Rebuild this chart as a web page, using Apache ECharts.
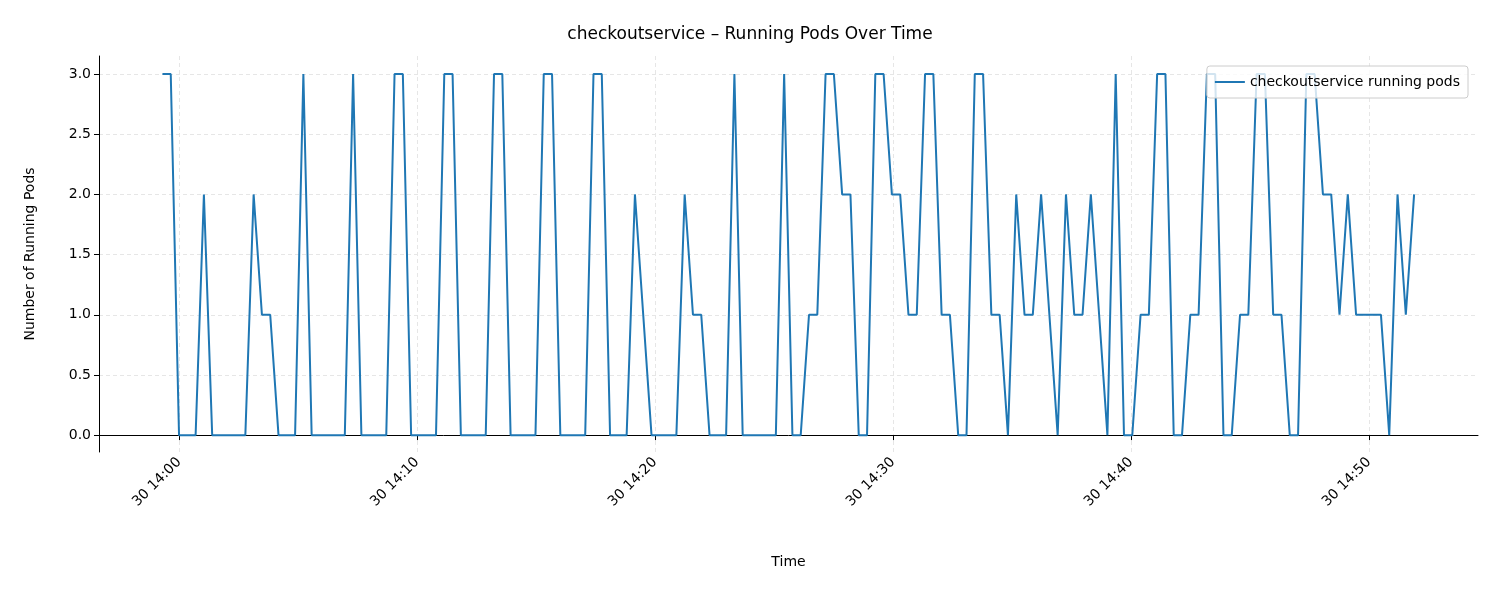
<!DOCTYPE html>
<html lang="en">
<head>
<meta charset="UTF-8">
<title>checkoutservice running pods</title>
<script src="https://cdn.jsdelivr.net/npm/echarts@6/dist/echarts.min.js"></script>
<style>
  html, body { margin: 0; padding: 0; background: #fff; }
  #chart { width: 1500px; height: 600px; }
</style>
</head>
<body>
<div id="chart"></div>
<script>
// samples roughly every 21 s, starting just before 14:00
const startTime = new Date(2025, 5, 30, 13, 59, 18).getTime();
const stepMs = 20900;
const runningPods = [
  3, 3, 0, 0, 0, 2, 0, 0, 0, 0, 0, 2, 1, 1, 0, 0, 0, 3, 0, 0,
  0, 0, 0, 3, 0, 0, 0, 0, 3, 3, 0, 0, 0, 0, 3, 3, 0, 0, 0, 0,
  3, 3, 0, 0, 0, 0, 3, 3, 0, 0, 0, 0, 3, 3, 0, 0, 0, 2, 1, 0,
  0, 0, 0, 2, 1, 1, 0, 0, 0, 3, 0, 0, 0, 0, 0, 3, 0, 0, 1, 1,
  3, 3, 2, 2, 0, 0, 3, 3, 2, 2, 1, 1, 3, 3, 1, 1, 0, 0, 3, 3,
  1, 1, 0, 2, 1, 1, 2, 1, 0, 2, 1, 1, 2, 1, 0, 3, 0, 0, 1, 1,
  3, 3, 0, 0, 1, 1, 3, 3, 0, 0, 1, 1, 3, 3, 1, 1, 0, 0, 3, 3,
  2, 2, 1, 2, 1, 1, 1, 1, 0, 2, 1, 2
];
const xTicks = [0, 10, 20, 30, 40, 50].map(m => new Date(2025, 5, 30, 14, m, 0).getTime());
const yTicks = [0, 0.5, 1, 1.5, 2, 2.5, 3];

const xMin = new Date(2025, 5, 30, 13, 56, 38).getTime();
const xMax = new Date(2025, 5, 30, 14, 54, 35).getTime();

const seriesData = runningPods.map((v, i) => [startTime + i * stepMs, v]);

const pad = n => String(n).padStart(2, '0');
const font = 'DejaVu Sans';

const chart = echarts.init(document.getElementById('chart'));
chart.setOption({
  animation: false,
  textStyle: { fontFamily: font },
  title: {
    text: 'checkoutservice – Running Pods Over Time',
    left: 'center', top: 21,
    textStyle: { fontFamily: font, fontSize: 17, fontWeight: 'normal', color: '#000' }
  },
  legend: {
    right: 32, top: 66,
    orient: 'vertical',
    itemWidth: 30, itemHeight: 2, itemGap: 6,
    padding: [9, 8, 9, 8],
    borderColor: '#cccccc', borderWidth: 1, borderRadius: 3,
    backgroundColor: 'rgba(255,255,255,0.8)',
    icon: 'rect',
    textStyle: { fontFamily: font, fontSize: 14, color: '#000' }
  },
  grid: { left: 99, right: 22, top: 56, bottom: 148 },
  xAxis: {
    type: 'value',
    min: xMin, max: xMax,
    name: 'Time', nameLocation: 'middle', nameGap: 103,
    nameTextStyle: { fontFamily: font, fontSize: 14, color: '#000' },
    axisLine: { lineStyle: { color: '#000', width: 1 } },
    axisTick: { show: true, customValues: xTicks, length: 5, lineStyle: { color: '#000' } },
    axisLabel: {
      customValues: xTicks, rotate: 45, fontSize: 14, color: '#000', margin: 8,
      formatter: v => { const d = new Date(v); return '30 ' + pad(d.getHours()) + ':' + pad(d.getMinutes()); }
    },
    splitLine: { show: true, lineStyle: { color: '#e6e6e6', type: [4, 3] } }
  },
  yAxis: {
    type: 'value',
    min: -0.14, max: 3.15,
    name: 'Number of Running Pods', nameLocation: 'middle', nameGap: 62,
    nameTextStyle: { fontFamily: font, fontSize: 14, color: '#000' },
    axisLine: { show: true, lineStyle: { color: '#000', width: 1 } },
    axisTick: { show: true, customValues: yTicks, length: 5, lineStyle: { color: '#000' } },
    axisLabel: { customValues: yTicks, fontSize: 14, color: '#000', formatter: v => v.toFixed(1) },
    splitLine: { show: true, lineStyle: { color: '#e6e6e6', type: [4, 3] } }
  },
  series: [{
    name: 'checkoutservice running pods',
    type: 'line',
    data: seriesData,
    showSymbol: false,
    color: '#1f77b4',
    lineStyle: { width: 2, color: '#1f77b4' }
  }]
});
</script>
</body>
</html>
